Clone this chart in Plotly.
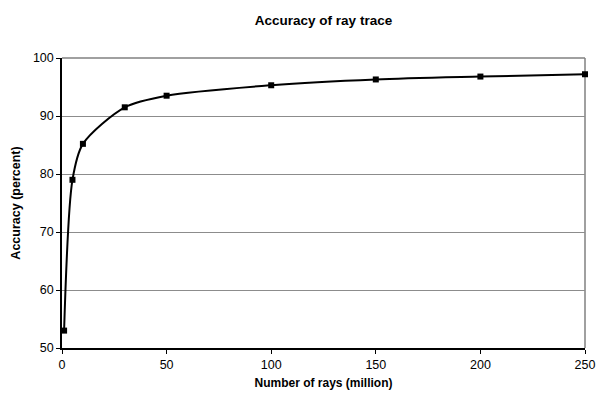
import plotly.graph_objects as go

# Ray-trace accuracy versus number of rays
rays_million = [1, 5, 10, 30, 50, 100, 150, 200, 250]
accuracy_pct = [53.0, 79.0, 85.2, 91.5, 93.5, 95.3, 96.3, 96.8, 97.2]

x_ticks = [0, 50, 100, 150, 200, 250]
y_ticks = [50, 60, 70, 80, 90, 100]

FONT = "Liberation Sans, Arial, sans-serif"

fig = go.Figure()
fig.add_trace(go.Scatter(
    x=rays_million,
    y=accuracy_pct,
    mode="lines+markers",
    line=dict(color="black", width=2, shape="spline", smoothing=0.8),
    marker=dict(symbol="square", size=6, color="black"),
    showlegend=False,
    cliponaxis=False,
))

# Light frame on the top and right edges of the plot area
fig.add_shape(type="line", xref="paper", yref="paper", x0=0, x1=1, y0=1, y1=1,
              line=dict(color="#808080", width=1.5), layer="below")
fig.add_shape(type="line", xref="paper", yref="paper", x0=1, x1=1, y0=0, y1=1,
              line=dict(color="#808080", width=1.5), layer="below")

fig.update_layout(
    width=597,
    height=399,
    margin=dict(l=62, r=12, t=58, b=51, autoexpand=False),
    paper_bgcolor="white",
    plot_bgcolor="white",
    font=dict(family=FONT, color="black", size=12),
    title=dict(
        text="<b>Accuracy of ray trace</b>",
        x=0.5, xanchor="center", xref="paper",
        y=0.95, yanchor="middle",
        font=dict(family=FONT, size=13.5, color="black"),
    ),
    xaxis=dict(
        range=[0, 250],
        tickvals=x_ticks,
        ticks="outside",
        ticklen=4,
        tickcolor="black",
        showline=True,
        linecolor="black",
        linewidth=1.5,
        showgrid=False,
        zeroline=False,
        automargin=False,
        tickfont=dict(family=FONT, size=12.5),
        title=dict(text="<b>Number of rays (million)</b>",
                   font=dict(family=FONT, size=12), standoff=8),
    ),
    yaxis=dict(
        range=[50, 100],
        tickvals=y_ticks,
        ticks="outside",
        ticklen=4,
        tickcolor="black",
        showline=True,
        linecolor="black",
        linewidth=1.5,
        showgrid=True,
        gridcolor="#8c8c8c",
        gridwidth=1,
        zeroline=False,
        automargin=False,
        tickfont=dict(family=FONT, size=12.5),
        title=dict(text="<b>Accuracy (percent)</b>",
                   font=dict(family=FONT, size=12.5), standoff=10),
    ),
)

fig.write_html("out.html")
